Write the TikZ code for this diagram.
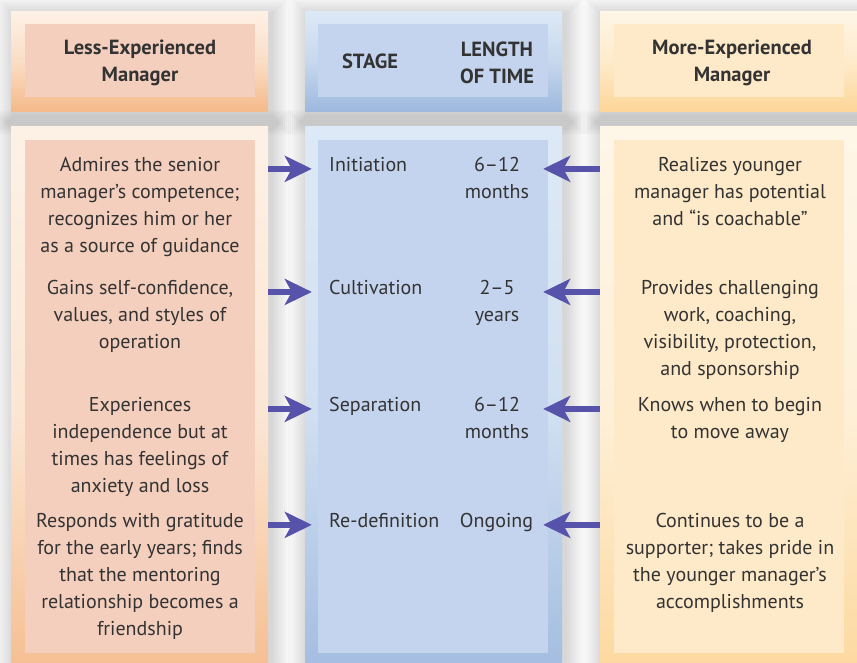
\documentclass[tikz,border=0pt]{standalone}
\usepackage{fontspec}
\setmainfont{PT Sans}
\usetikzlibrary{arrows.meta,positioning}

\definecolor{peachtop}{HTML}{FDF1E6}
\definecolor{peachbot}{HTML}{F5BA8A}
\definecolor{peachin}{HTML}{F4CFBE}
\definecolor{bluetop}{HTML}{DDE9F6}
\definecolor{bluebot}{HTML}{9EB9DE}
\definecolor{bluein}{HTML}{C5D4EE}
\definecolor{sandtop}{HTML}{FEF6E7}
\definecolor{sandbot}{HTML}{FDD698}
\definecolor{sandin}{HTML}{FEEAC8}
\definecolor{inkgray}{HTML}{333333}
\definecolor{arrowblue}{HTML}{5752AA}

\begin{document}
\begin{tikzpicture}[x=1pt,y=-1pt]
\tikzset{
  outerbox/.style={rectangle,inner sep=0pt,minimum width=257pt},
  innerbox/.style={rectangle,inner sep=0pt,minimum width=230pt},
  headtext/.style={font=\fontsize{20.5}{27}\selectfont\bfseries,text=inkgray,align=center,inner sep=0pt},
  celltext/.style={font=\fontsize{20}{27}\selectfont,text=inkgray,align=center,inner sep=0pt,anchor=north},
  stagetext/.style={font=\fontsize{20}{27}\selectfont,text=inkgray,inner sep=0pt,anchor=north west},
  linkarrow/.style={draw=arrowblue,line width=6pt,-{Stealth[length=27pt,width=26pt,inset=7pt]}}
}
\useasboundingbox (0,0) rectangle (857,662);
\clip (0,0) rectangle (857,662);
\fill[white] (0,0) rectangle (857,662);

% soft shadows round the columns
\foreach \xa/\xb in {11/268,305/562,600/857}{
  \foreach \s in {1,...,10}{
    \fill[black,opacity=0.016] (\xa-\s*2+3,11-\s*2+4) rectangle (\xb+\s*2+3,111+\s*2+4);
    \fill[black,opacity=0.016] (\xa-\s*2+3,126-\s*2+4) rectangle (\xb+\s*2+3,700);
  }
}

% header boxes
\node[outerbox,minimum height=100pt,top color=peachtop,bottom color=peachbot,middle color=peachtop!65!peachbot] (lefthead) at (139.5,61) {};
\node[innerbox,minimum height=73pt,fill=peachin] (leftheadin) at (140,60.5) {};
\node[outerbox,minimum height=100pt,top color=bluetop,bottom color=bluebot,middle color=bluetop!65!bluebot] (midhead) at (433.5,61) {};
\node[innerbox,minimum height=73pt,fill=bluein] (midheadin) at (433,60.5) {};
\node[outerbox,minimum height=100pt,top color=sandtop,bottom color=sandbot,middle color=sandtop!65!sandbot] (righthead) at (728.5,61) {};
\node[innerbox,minimum height=73pt,fill=sandin] (rightheadin) at (729,60.5) {};

% body boxes
\node[outerbox,minimum height=574pt,top color=peachtop,bottom color=peachbot,middle color=peachtop!80!peachbot] (leftbody) at (139.5,413) {};
\node[innerbox,minimum height=513pt,fill=peachin] (leftinner) at (140,396.5) {};
\node[outerbox,minimum height=574pt,top color=bluetop,bottom color=bluebot,middle color=bluetop!80!bluebot] (midbody) at (433.5,413) {};
\node[innerbox,minimum height=513pt,fill=bluein] (midinner) at (433,396.5) {};
\node[outerbox,minimum height=574pt,top color=sandtop,bottom color=sandbot,middle color=sandtop!80!sandbot] (rightbody) at (728.5,413) {};
\node[innerbox,minimum height=513pt,fill=sandin] (rightinner) at (729,396.5) {};

% headings
\node[headtext] (lesshead) at (140,63) {Less-Experienced\\Manager};
\node[headtext] (stagehead) at (370,61) {STAGE};
\node[headtext] (lengthhead) at (497,63) {LENGTH\\OF TIME};
\node[headtext] (morehead) at (732,63) {More-Experienced\\Manager};

% stages and their length
\node[stagetext] (init) at (329,157) {Initiation};
\node[celltext] (initlen) at (497,157) {6–12\\months};
\node[stagetext] (cult) at (329,280) {Cultivation};
\node[celltext] (cultlen) at (497,280) {2–5\\years};
\node[stagetext] (sep) at (329,397) {Separation};
\node[celltext] (seplen) at (497,397) {6–12\\months};
\node[stagetext] (redef) at (329,513) {Re-definition};
\node[celltext] (redeflen) at (496.5,513) {Ongoing};

% less-experienced manager
\node[celltext] (less1) at (140,157) {Admires the senior\\manager’s competence;\\recognizes him or her\\as a source of guidance};
\node[celltext] (less2) at (140,280) {Gains self-confidence,\\values, and styles of\\operation};
\node[celltext] (less3) at (140,397) {Experiences\\independence but at\\times has feelings of\\anxiety and loss};
\node[celltext] (less4) at (140,513) {Responds with gratitude\\for the early years; finds\\that the mentoring\\relationship becomes a\\friendship};

% more-experienced manager
\node[celltext] (more1) at (730,157) {Realizes younger\\manager has potential\\and “is coachable”};
\node[celltext] (more2) at (730,280) {Provides challenging\\work, coaching,\\visibility, protection,\\and sponsorship};
\node[celltext] (more3) at (730,397) {Knows when to begin\\to move away};
\node[celltext] (more4) at (730,513) {Continues to be a\\supporter; takes pride in\\the younger manager’s\\accomplishments};

% arrows
\draw[linkarrow,shorten >=6pt] (leftbody.east |- init.mid) -- (midinner.west |- init.mid);
\draw[linkarrow,shorten >=6pt] (leftbody.east |- cult.mid) -- (midinner.west |- cult.mid);
\draw[linkarrow,shorten >=6pt] (leftbody.east |- sep.mid) -- (midinner.west |- sep.mid);
\draw[linkarrow,shorten >=6pt] (leftbody.east |- redef.mid) -- (midinner.west |- redef.mid);
\draw[linkarrow,shorten >=-5pt] (rightbody.west |- init.mid) -- (midinner.east |- init.mid);
\draw[linkarrow,shorten >=-5pt] (rightbody.west |- cult.mid) -- (midinner.east |- cult.mid);
\draw[linkarrow,shorten >=-5pt] (rightbody.west |- sep.mid) -- (midinner.east |- sep.mid);
\draw[linkarrow,shorten >=-5pt] (rightbody.west |- redef.mid) -- (midinner.east |- redef.mid);
\end{tikzpicture}
\end{document}
